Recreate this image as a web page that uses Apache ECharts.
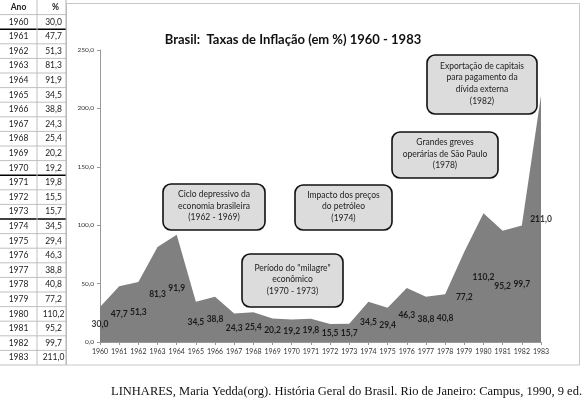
<!DOCTYPE html>
<html><head><meta charset="utf-8">
<script src="https://cdn.jsdelivr.net/npm/echarts@6/dist/echarts.min.js"></script>
<style>html,body{margin:0;padding:0;background:#fff}#c{width:586px;height:406px}</style>
</head><body><div id="c"></div>
<script>
const years = ['1960','1961','1962','1963','1964','1965','1966','1967','1968','1969','1970','1971','1972','1973','1974','1975','1976','1977','1978','1979','1980','1981','1982','1983'];
const inflation = [30.0,47.7,51.3,81.3,91.9,34.5,38.8,24.3,25.4,20.2,19.2,19.8,15.5,15.7,34.5,29.4,46.3,38.8,40.8,77.2,110.2,95.2,99.7,211.0];
const yTicks = [0,50,100,150,200,250];
const tableHeader = ['Ano','%'];
const thickAfter = ['1960','1970','1973'];
const notes = [
  {text:'Exportação de capitais\npara pagamento da\ndívida externa\n(1982)', box:[427,55,110,59]},
  {text:'Grandes greves\noperárias de São Paulo\n(1978)', box:[392,132,106,46]},
  {text:'Impacto dos preços\ndo petróleo\n(1974)', box:[295,185,97,45]},
  {text:'Ciclo depressivo da\neconomia brasileira\n(1962 - 1969)', box:[163,184,102,46]},
  {text:'Período do "milagre"\neconômico\n(1970 - 1973)', box:[242,254,101,53]}
];
const fmt = v => v.toFixed(1).replace('.', ',');
const FONT = 'Lato';

const g = [];
// chart frame
g.push({type:'rect', shape:{x:66.5,y:3.5,width:513,height:361.5}, style:{fill:'none', stroke:'#c8c8c8', lineWidth:1}, z:-10});
// table
const rowH = 365/25, c0 = 0, c1 = 37, c2 = 66;
const rows = [tableHeader].concat(years.map((y,i)=>[y, fmt(inflation[i])]));
rows.forEach((r,i)=>{
  const y0 = i*rowH;
  g.push({type:'text', style:{text:r[0], x:(c0+c1)/2, y:y0+rowH/2, align:'center', verticalAlign:'middle', fontFamily:FONT, fontSize:8.5, fontWeight:i===0?'bold':'normal', fill:'#222'}});
  g.push({type:'text', style:{text:r[1], x:i===0?(c1+c2)/2+4:(c1+c2)/2+2, y:y0+rowH/2, align:'center', verticalAlign:'middle', fontFamily:FONT, fontSize:8.5, fontWeight:i===0?'bold':'normal', fill:'#222'}});
  const thick = i>0 && thickAfter.indexOf(r[0])>=0;
  g.push({type:'line', shape:{x1:0,y1:y0+rowH,x2:c2,y2:y0+rowH}, style:{stroke:thick?'#000':'#c0c0c0', lineWidth:thick?1.5:1}});
});
g.push({type:'line', shape:{x1:c1,y1:0,x2:c1,y2:365}, style:{stroke:'#c0c0c0', lineWidth:1}});
g.push({type:'line', shape:{x1:c2,y1:0,x2:c2,y2:365}, style:{stroke:'#b0b0b0', lineWidth:1}});
// notes
notes.forEach(n=>{
  const [x,y,w,h] = n.box;
  g.push({type:'rect', shape:{x:x,y:y,width:w,height:h,r:8}, style:{fill:'#dcdcdc', stroke:'#111', lineWidth:1.6}, z:10});
  g.push({type:'text', style:{text:n.text, x:x+w/2, y:y+h/2-1, align:'center', verticalAlign:'middle', fontFamily:FONT, fontSize:8.5, lineHeight:11.6, fill:'#222'}, z:11});
});
// caption
g.push({type:'text', style:{text:'LINHARES, Maria Yedda(org). História Geral do Brasil. Rio de Janeiro: Campus, 1990, 9 ed.', x:582, y:392, align:'right', verticalAlign:'middle', fontFamily:'Liberation Serif', fontSize:12.5, fill:'#111'}});

const chart = echarts.init(document.getElementById('c'), null, {renderer:'canvas'});
chart.setOption({
  animation:false,
  title:{text:'Brasil:  Taxas de Inflação (em %) 1960 - 1983', left:288, top:28, textAlign:'center',
    textStyle:{fontFamily:FONT, fontSize:13, fontWeight:'bold', color:'#111'}},
  grid:{left:100, right:45, top:50, bottom:64},
  xAxis:{type:'category', data:years, boundaryGap:false,
    axisLine:{lineStyle:{color:'#999'}}, axisTick:{show:true, length:3, alignWithLabel:true, lineStyle:{color:'#999'}},
    axisLabel:{fontFamily:FONT, fontSize:7, color:'#333', margin:6, interval:0}},
  yAxis:{type:'value', min:0, max:250, interval:50,
    splitLine:{show:false},
    axisLine:{show:true, lineStyle:{color:'#999'}}, axisTick:{show:true, length:3, lineStyle:{color:'#999'}},
    axisLabel:{fontFamily:FONT, fontSize:6.5, color:'#333', margin:6, formatter:v=>fmt(v)}},
  series:[
    {type:'line', data:inflation, symbol:'none', lineStyle:{width:0}, areaStyle:{color:'#808080', opacity:1}, z:1},
    {type:'scatter', data:inflation.map(v=>v/2), symbolSize:1, itemStyle:{color:'rgba(0,0,0,0)'}, z:5, silent:true,
      label:{show:true, position:'inside', formatter:p=>fmt(inflation[p.dataIndex]),
        fontFamily:FONT, fontSize:8.5, fontWeight:'bold', color:'#000'}}
  ],
  graphic:g
});
</script></body></html>
